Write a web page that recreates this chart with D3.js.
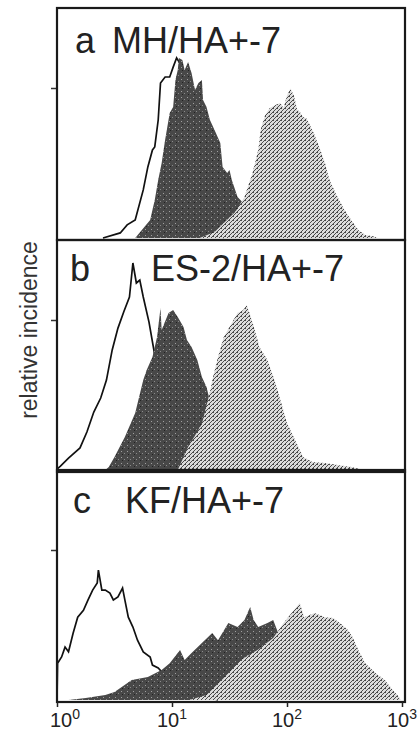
<!DOCTYPE html>
<html>
<head>
<meta charset="utf-8">
<script src="https://cdn.jsdelivr.net/npm/d3@7"></script>
<style>
  body { margin: 0; background: #fff; }
  svg { display: block; font-family: "Liberation Sans", Arial, sans-serif; }
</style>
</head>
<body>
<script>
// histogram traces: [log10 fluorescence, relative incidence (0-100)]
const ctrlA = [[0.40,0],[0.55,2.2],[0.61,5.7],[0.68,7.8],[0.75,20.9],[0.79,30.9],[0.83,38.3],[0.85,39.6],[0.88,51.3],[0.90,67.4],[0.94,70],[0.98,70],[1.01,74.3],[1.04,78.3],[1.08,75],[1.15,55],[1.25,25],[1.35,8],[1.45,0]]
const darkA = [[0.68,0],[0.81,7.8],[0.85,16.5],[0.88,25.2],[0.91,32.6],[0.94,42.6],[0.98,54.3],[1.01,57],[1.03,68.7],[1.05,73],[1.06,78.3],[1.09,77.4],[1.11,73],[1.14,76.5],[1.17,71.7],[1.20,64.3],[1.23,67.4],[1.26,68.7],[1.27,60],[1.30,57],[1.33,51.3],[1.37,47],[1.42,41.3],[1.44,30.9],[1.48,28.3],[1.50,29.6],[1.52,25.2],[1.57,17.8],[1.62,15.2],[1.65,10],[1.70,3.5],[1.75,0]]
const lightA = [[1.24,0],[1.37,2.6],[1.46,7],[1.55,11.3],[1.63,17.8],[1.70,28.3],[1.75,38.3],[1.77,47],[1.81,53.5],[1.85,56.5],[1.90,57.8],[1.94,58.7],[1.97,56.5],[2.00,62],[2.03,65],[2.06,62],[2.09,55.7],[2.11,55],[2.14,52.6],[2.17,52],[2.20,49],[2.24,44.8],[2.29,38.3],[2.33,32.6],[2.37,25.2],[2.43,18.7],[2.50,12.2],[2.57,7],[2.62,3.5],[2.68,1.3],[2.74,0.9],[2.79,0]]

const ctrlB = [[0.00,0.4],[0.03,1.7],[0.10,5.2],[0.20,9.6],[0.26,16.5],[0.32,25.2],[0.38,31.3],[0.43,39.1],[0.48,52.2],[0.53,61.7],[0.58,68.7],[0.63,75.2],[0.66,90],[0.69,81.3],[0.72,82.6],[0.75,75.2],[0.80,64.3],[0.85,50],[0.90,37],[1.00,17],[1.10,6.5],[1.20,0]]
const darkB = [[0.42,0],[0.45,1.3],[0.50,5.7],[0.59,14.3],[0.68,24.8],[0.75,39.1],[0.78,43.5],[0.83,49.1],[0.87,57.8],[0.90,70.4],[0.91,60.9],[0.97,68.3],[1.01,69.6],[1.05,66.5],[1.10,62.2],[1.13,56.5],[1.17,53.5],[1.22,47.8],[1.26,40.4],[1.30,36.1],[1.33,30],[1.36,25],[1.42,14],[1.50,6],[1.60,2],[1.70,0]]
const lightB = [[1.05,0],[1.14,10],[1.20,15],[1.26,20],[1.33,34],[1.35,39],[1.40,49.1],[1.45,57.8],[1.52,63.9],[1.57,68.3],[1.62,69.6],[1.65,71.7],[1.68,67.4],[1.72,60.9],[1.76,53.5],[1.83,47.8],[1.90,37.8],[1.95,29.1],[2.00,20.4],[2.07,13],[2.14,5.7],[2.22,3.5],[2.33,3],[2.44,2.2],[2.56,1.3],[2.67,0]]

const ctrlC = [[0.00,0],[0.005,16],[0.04,18.7],[0.07,23],[0.10,21],[0.14,29],[0.18,36],[0.23,39],[0.27,43.5],[0.31,47.8],[0.35,50.9],[0.36,56.5],[0.39,47.8],[0.42,47.8],[0.46,46.5],[0.49,43.5],[0.53,44.8],[0.57,48.7],[0.59,43.5],[0.62,36],[0.66,31.7],[0.70,26],[0.75,20.9],[0.81,18.7],[0.83,15.2],[0.88,13.9],[0.95,10],[1.05,6],[1.20,3],[1.40,0]]
const darkC = [[0.10,0],[0.25,0.9],[0.42,2.2],[0.50,3.5],[0.65,8.7],[0.79,10],[0.91,13],[0.98,16],[1.07,21.7],[1.11,17.4],[1.17,20.4],[1.26,24.8],[1.35,29.1],[1.40,26],[1.49,33.5],[1.57,31.7],[1.63,34.8],[1.68,40.4],[1.71,34.8],[1.75,31.7],[1.83,33.5],[1.88,34.8],[1.92,29.6],[2.00,20],[2.10,10],[2.20,4],[2.30,0]]
const lightC = [[1.15,0],[1.30,2.2],[1.45,9.6],[1.60,17.4],[1.75,22],[1.88,27],[1.97,33.5],[2.04,37.8],[2.11,42.2],[2.15,36],[2.24,37.8],[2.33,36],[2.40,35.7],[2.46,33.5],[2.53,30.4],[2.57,27.4],[2.62,21.7],[2.68,16],[2.77,11.7],[2.85,8.7],[2.92,4.3],[2.96,2.2],[2.99,0]]

const panelLetters = ["a", "b", "c"]
const panelTitles = ["MH/HA+-7", "ES-2/HA+-7", "KF/HA+-7"]
const xTicks = [1, 10, 100, 1000]
const yLabel = "relative incidence"

const panels = [
    { ctrl: ctrlA, dark: darkA, light: lightA },
    { ctrl: ctrlB, dark: darkB, light: lightB },
    { ctrl: ctrlC, dark: darkC, light: lightC }
]

const width = 418, height = 739
const left = 57, right = 405
const panelTop = [8, 240, 470], panelH = 232
const letterX = [75, 70, 73], titleX = [112, 151, 125], labelY = [53, 281, 513]

const svg = d3.select("body")
    .append("svg")
    .attr("width", width)
    .attr("height", height)

// stipple textures like the scanned print
const defs = svg.append("defs")
const pd = defs.append("pattern").attr("id", "darkFill")
    .attr("patternUnits", "userSpaceOnUse").attr("width", 6).attr("height", 6)
pd.append("rect").attr("width", 6).attr("height", 6).attr("fill", "#484848")
pd.append("rect").attr("x", 1).attr("y", 1).attr("width", 1).attr("height", 1).attr("fill", "#a0a0a0")
pd.append("rect").attr("x", 4).attr("y", 3).attr("width", 1).attr("height", 1).attr("fill", "#8a8a8a")
pd.append("rect").attr("x", 2).attr("y", 4).attr("width", 1).attr("height", 1).attr("fill", "#222")
const pl = defs.append("pattern").attr("id", "lightFill")
    .attr("patternUnits", "userSpaceOnUse").attr("width", 4).attr("height", 4)
pl.append("rect").attr("width", 4).attr("height", 4).attr("fill", "#dcdcdc")
;[[0, 0], [1, 0], [2, 2], [1, 3], [3, 1]].forEach(p => {
    pl.append("rect").attr("x", p[0]).attr("y", p[1]).attr("width", 1).attr("height", 1).attr("fill", "#4a4a4a")
})

const xScale = d3.scaleLog().domain([1, 1000]).range([left, 402])

panels.forEach((p, i) => {
    const top = panelTop[i]
    const yScale = d3.scaleLinear().domain([0, 100]).range([top + 230, top])

    const line = d3.line()
        .x(d => xScale(Math.pow(10, d[0])))
        .y(d => yScale(d[1]))
    const area = d3.area()
        .x(d => xScale(Math.pow(10, d[0])))
        .y0(yScale(0))
        .y1(d => yScale(d[1]))

    const g = svg.append("g")

    // control (unstained) outline goes underneath the filled ones
    g.append("path")
        .datum(p.ctrl)
        .attr("d", line)
        .attr("fill", "none")
        .attr("stroke", "#111")
        .attr("stroke-width", 1.7)

    g.append("path")
        .datum(p.dark)
        .attr("d", area)
        .attr("fill", "url(#darkFill)")

    g.append("path")
        .datum(p.light)
        .attr("d", area)
        .attr("fill", "url(#lightFill)")

    // small y tick on the left frame
    g.append("line")
        .attr("x1", left - 6).attr("x2", left)
        .attr("y1", yScale(65)).attr("y2", yScale(65))
        .attr("stroke", "#333").attr("stroke-width", 1.5)

    g.append("rect")
        .attr("x", left).attr("y", top)
        .attr("width", right - left).attr("height", panelH)
        .attr("fill", "none")
        .attr("stroke", "#1a1a1a")
        .attr("stroke-width", 2.2)

    g.append("text")
        .attr("x", letterX[i]).attr("y", labelY[i])
        .attr("font-size", 36)
        .attr("fill", "#222")
        .text(panelLetters[i])
    g.append("text")
        .attr("x", titleX[i]).attr("y", labelY[i])
        .attr("font-size", 36)
        .attr("fill", "#222")
        .text(panelTitles[i])
})

const xaxis = d3.axisBottom(xScale)
    .tickValues(xTicks)
    .tickSize(5)
    .tickFormat("")

const axisG = svg.append("g")
    .attr("transform", `translate(0,${panelTop[2] + panelH})`)
    .call(xaxis)
axisG.select(".domain").remove()
axisG.selectAll(".tick line").attr("stroke", "#222").attr("stroke-width", 1.5)

const lab = svg.append("g")
    .selectAll("text")
    .data(xTicks)
    .join("text")
    .attr("x", (d, i) => xScale(d) + (i === 0 ? 8 : 0))
    .attr("y", 727)
    .attr("text-anchor", "middle")
    .attr("font-size", 20)
    .attr("fill", "#222")
lab.append("tspan").text("10")
lab.append("tspan")
    .attr("dy", -8)
    .attr("font-size", 14)
    .text(d => Math.round(Math.log10(d)))

svg.append("text")
    .attr("transform", "translate(37,330) rotate(-90)")
    .attr("text-anchor", "middle")
    .attr("font-size", 23)
    .attr("fill", "#333")
    .text(yLabel)
</script>
</body>
</html>
